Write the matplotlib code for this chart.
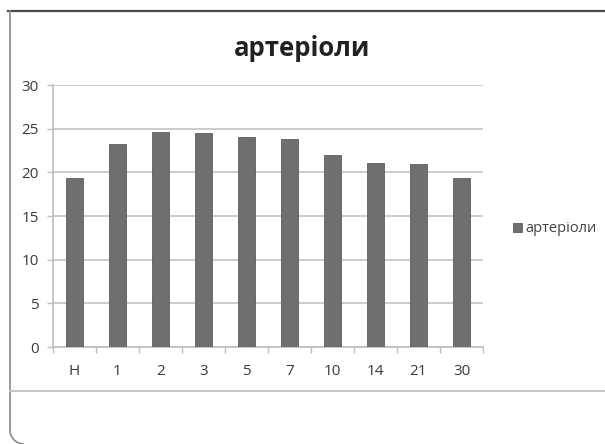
import matplotlib
matplotlib.use("Agg")
from matplotlib import pyplot as plt
from matplotlib.lines import Line2D
from matplotlib.patches import Arc
import numpy as np

# days of observation and arteriole values
days = ["Н", "1", "2", "3", "5", "7", "10", "14", "21", "30"]
arterioles = [19.4, 23.2, 24.65, 24.5, 24.1, 23.8, 22.0, 21.1, 21.0, 19.3]
series_name = "артеріоли"

plt.rcParams['font.family'] = ['Open Sans', 'DejaVu Sans']

W, H = 605, 444
fig = plt.figure(figsize=(W / 100, H / 100), dpi=100)

# slide frame around the chart
fig.add_artist(Line2D([8 / W, 1], [1 - 11 / H] * 2, color="#4a4a4a", lw=1.6))
fig.add_artist(Line2D([10 / W] * 2, [1 - 11 / H, 1 - 430 / H], color="#8a8a8a", lw=1.2))
fig.add_artist(Line2D([10 / W, 1], [1 - 391 / H] * 2, color="#c4c4c4", lw=1.4))
fig.add_artist(Line2D([24 / W, 1], [1 - 444.5 / H] * 2, color="#8a8a8a", lw=1.2))
ax_frame = fig.add_axes([0, 0, 1, 1])
ax_frame.set_xlim(0, W)
ax_frame.set_ylim(H, 0)
ax_frame.axis("off")
ax_frame.add_patch(Arc((24, 430), 28, 28, theta1=90, theta2=180, color="#8a8a8a", lw=1.2))

ax = fig.add_axes([53 / W, 1 - 347 / H, 430 / W, 262 / H])
x = np.arange(len(days))
bars = ax.bar(x, arterioles, width=0.4, color="#6f6f72", edgecolor="#5e5e60",
              linewidth=0.6, label=series_name, zorder=3)

ax.set_xlim(-0.5, len(days) - 0.5)
ax.set_ylim(0, 30)
ax.set_yticks(np.arange(0, 31, 5))
ax.set_xticks(x)
ax.set_xticklabels(days)
ax.set_xticks(np.arange(-0.5, len(days), 1), minor=True)
ax.tick_params(axis="x", which="major", length=0, pad=12, labelsize=11, labelcolor="#3a3a3a")
ax.tick_params(axis="x", which="minor", length=4, color="#bdbdbd", width=1)
ax.tick_params(axis="y", length=4, color="#bdbdbd", width=1, pad=6,
               labelsize=11, labelcolor="#3a3a3a")
ax.grid(axis="y", color="#c8c8c8", lw=1.3, zorder=0)
for s in ["top", "right"]:
    ax.spines[s].set_visible(False)
for s in ["left", "bottom"]:
    ax.spines[s].set_color("#bdbdbd")
    ax.spines[s].set_linewidth(1.2)

fig.text(302 / W, 1 - 48 / H, series_name, ha="center", va="center",
         fontsize=18.5, fontweight="bold", color="#222222")

fig.legend(handles=[bars], labels=[series_name], loc="center left",
           bbox_to_anchor=(500 / W, 1 - 229 / H), frameon=False, fontsize=10.5,
           handlelength=0.6, handleheight=0.6, handletextpad=0.25,
           labelcolor="#444444")

fig.savefig("out.png", dpi=100)
